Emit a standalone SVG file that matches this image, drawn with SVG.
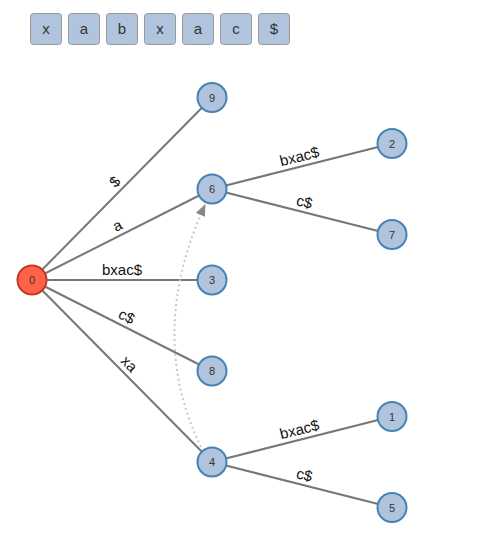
<svg xmlns="http://www.w3.org/2000/svg" width="499" height="545" viewBox="0 0 499 545">
<defs>
<style>
.box rect{fill:#b0c4de;stroke:#999;stroke-width:1}
.box text{font-family:"Liberation Sans",Arial,sans-serif;font-size:15px;fill:#333;text-anchor:middle}
.edge{stroke:#777;stroke-width:2;fill:none}
.lbl{font-family:"Liberation Sans",Arial,sans-serif;font-size:15px;fill:#111;text-anchor:middle}
.node circle{fill:#b0c4de;stroke:#4682b4;stroke-width:2}
.node text{font-family:"Liberation Sans",Arial,sans-serif;font-size:11px;fill:#333;text-anchor:middle}
.root circle{fill:#ff6347;stroke:#c0392b}
.link{stroke:#c8c8c8;stroke-width:2;stroke-dasharray:2,3;fill:none}
</style>
<marker id="arr" viewBox="0 0 12 10" refX="11" refY="5" markerWidth="6" markerHeight="5" orient="auto" markerUnits="strokeWidth">
<path d="M0,0 L12,5 L0,10 z" fill="#888"/>
</marker>
</defs>
<rect width="499" height="545" fill="#fff"/>
<g id="string">
<g class="box"><rect x="30.5" y="13.5" width="31" height="31" rx="3"/><text x="46" y="34">x</text></g>
<g class="box"><rect x="68.5" y="13.5" width="31" height="31" rx="3"/><text x="84" y="34">a</text></g>
<g class="box"><rect x="106.5" y="13.5" width="31" height="31" rx="3"/><text x="122" y="34">b</text></g>
<g class="box"><rect x="144.5" y="13.5" width="31" height="31" rx="3"/><text x="160" y="34">x</text></g>
<g class="box"><rect x="182.5" y="13.5" width="31" height="31" rx="3"/><text x="198" y="34">a</text></g>
<g class="box"><rect x="220.5" y="13.5" width="31" height="31" rx="3"/><text x="236" y="34">c</text></g>
<g class="box"><rect x="258.5" y="13.5" width="31" height="31" rx="3"/><text x="274" y="34">$</text></g>
</g>
<g id="connectors">
<line class="edge" x1="32" y1="280" x2="212" y2="97.5"/>
<line class="edge" x1="32" y1="280" x2="212" y2="189"/>
<line class="edge" x1="32" y1="280" x2="212" y2="280"/>
<line class="edge" x1="32" y1="280" x2="212" y2="371"/>
<line class="edge" x1="32" y1="280" x2="212" y2="462"/>
<line class="edge" x1="212" y1="189" x2="392" y2="143.5"/>
<line class="edge" x1="212" y1="189" x2="392" y2="234.5"/>
<line class="edge" x1="212" y1="462" x2="392" y2="416.5"/>
<line class="edge" x1="212" y1="462" x2="392" y2="507.5"/>
<path class="link" d="M201,447 Q146,334 205,205" marker-end="url(#arr)"/>
<text class="lbl" transform="translate(122,188.75) rotate(-45.4)" y="-5">$</text>
<text class="lbl" transform="translate(122,234.5) rotate(-26.8)" y="-5">a</text>
<text class="lbl" transform="translate(122,280)" y="-5">bxac$</text>
<text class="lbl" transform="translate(122,325.5) rotate(26.8)" y="-5">c$</text>
<text class="lbl" transform="translate(122,371) rotate(45.3)" y="-5">xa</text>
<text class="lbl" transform="translate(302,166.25) rotate(-14.2)" y="-5">bxac$</text>
<text class="lbl" transform="translate(302,211.75) rotate(14.2)" y="-5">c$</text>
<text class="lbl" transform="translate(302,439.25) rotate(-14.2)" y="-5">bxac$</text>
<text class="lbl" transform="translate(302,484.75) rotate(14.2)" y="-5">c$</text>
</g>
<g id="n0" class="node root"><circle cx="32" cy="280" r="14.5"/><text x="32" y="284">0</text></g>
<g id="n9" class="node"><circle cx="212" cy="97.5" r="14.5"/><text x="212" y="101.5">9</text></g>
<g id="n6" class="node"><circle cx="212" cy="189" r="14.5"/><text x="212" y="193">6</text></g>
<g id="n3" class="node"><circle cx="212" cy="280" r="14.5"/><text x="212" y="284">3</text></g>
<g id="n8" class="node"><circle cx="212" cy="371" r="14.5"/><text x="212" y="375">8</text></g>
<g id="n4" class="node"><circle cx="212" cy="462" r="14.5"/><text x="212" y="466">4</text></g>
<g id="n2" class="node"><circle cx="392" cy="143.5" r="14.5"/><text x="392" y="147.5">2</text></g>
<g id="n7" class="node"><circle cx="392" cy="234.5" r="14.5"/><text x="392" y="238.5">7</text></g>
<g id="n1" class="node"><circle cx="392" cy="416.5" r="14.5"/><text x="392" y="420.5">1</text></g>
<g id="n5" class="node"><circle cx="392" cy="507.5" r="14.5"/><text x="392" y="511.5">5</text></g>
</svg>
